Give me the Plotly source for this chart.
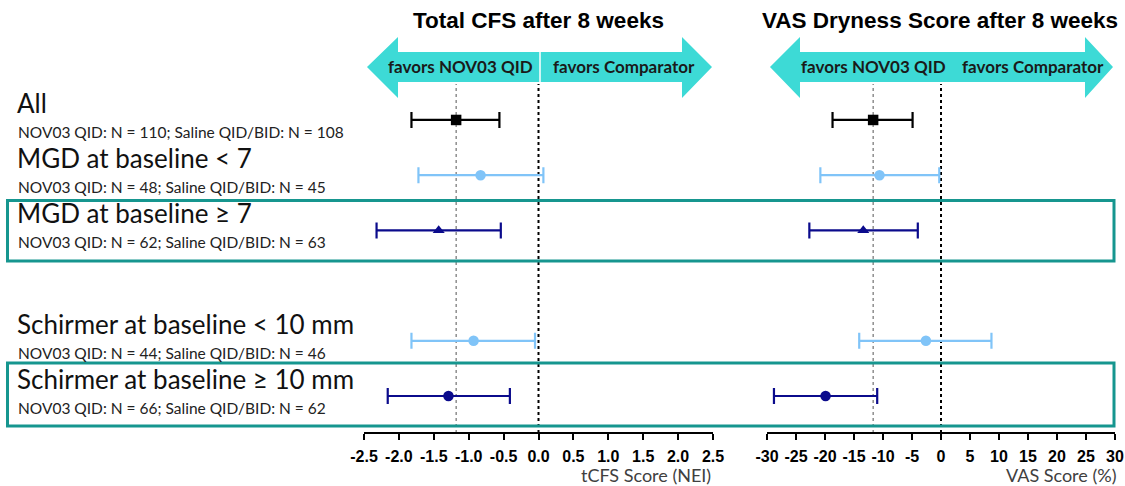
import plotly.graph_objects as go

# ---------------- data ----------------
groups = ["All", "MGD at baseline < 7", "MGD at baseline \u2265 7", "",
          "Schirmer at baseline < 10 mm", "Schirmer at baseline \u2265 10 mm"]
group_ns = ["NOV03 QID: N = 110; Saline QID/BID: N = 108",
            "NOV03 QID: N = 48; Saline QID/BID: N = 45",
            "NOV03 QID: N = 62; Saline QID/BID: N = 63",
            "",
            "NOV03 QID: N = 44; Saline QID/BID: N = 46",
            "NOV03 QID: N = 66; Saline QID/BID: N = 62"]
row_ids = ["r0", "r1", "r2", "gap", "r4", "r5"]

plot_rows = ["r0", "r1", "r2", "r4", "r5"]
cfs_mean = [-1.18, -0.83, -1.43, -0.93, -1.29]
cfs_low = [-1.82, -1.72, -2.32, -1.82, -2.16]
cfs_high = [-0.56, 0.07, -0.54, -0.05, -0.41]

vas_mean = [-11.7, -10.6, -13.4, -2.6, -19.9]
vas_low = [-18.7, -20.8, -22.7, -14.1, -28.8]
vas_high = [-4.9, -0.3, -4.0, 8.7, -11.0]

cfs_ref = -1.18
vas_ref = -11.7

cfs_ticks = [-2.5, -2.0, -1.5, -1.0, -0.5, 0.0, 0.5, 1.0, 1.5, 2.0, 2.5]
cfs_ticktext = ["-2.5", "-2.0", "-1.5", "-1.0", "-0.5", "0.0", "0.5", "1.0", "1.5", "2.0", "2.5"]
vas_ticks = [-30, -25, -20, -15, -10, -5, 0, 5, 10, 15, 20, 25, 30]
vas_ticktext = ["-30", "-25", "-20", "-15", "-10", "-5", "0", "5", "10", "15", "20", "25", "30"]

symbols = ["square", "circle", "triangle-up", "circle", "circle"]
colors = ["#000000", "#80c4f8", "#0b0b8c", "#80c4f8", "#0b0b8c"]

# ---------------- layout helpers ----------------
W, H = 1125, 486
def px(x):
    return x / W
def py(y):
    return 1 - y / H

fig = go.Figure()

for panel, (means, lows, highs, xa) in enumerate([
        (cfs_mean, cfs_low, cfs_high, "x"),
        (vas_mean, vas_low, vas_high, "x2")]):
    for i, r in enumerate(plot_rows):
        fig.add_trace(go.Scatter(
            x=[means[i]], y=[r], xaxis=xa, yaxis="y" if xa == "x" else "y2",
            mode="markers",
            marker=dict(symbol=symbols[i], size=10.5, color=colors[i]),
            error_x=dict(type="data", symmetric=False,
                         array=[highs[i] - means[i]],
                         arrayminus=[means[i] - lows[i]],
                         color=colors[i], thickness=2.2, width=8),
            showlegend=False, hoverinfo="skip"))

ydom = [py(433), py(78)]
yrange = [5.67, -0.76]
axis_common = dict(showgrid=False, zeroline=False, showline=True, linecolor="black",
                   linewidth=2, ticks="outside", ticklen=6, tickwidth=2, tickcolor="black",
                   tickfont=dict(family="Liberation Sans", size=16, color="black", weight="bold"),
                   tickmode="array", ticklabelstandoff=3,
                   anchor="free", position=ydom[0], fixedrange=True, automargin=False)

fig.update_layout(
    template="none",
    width=W, height=H, margin=dict(l=0, r=0, t=0, b=0, pad=0, autoexpand=False),
    plot_bgcolor="white", paper_bgcolor="white",
    xaxis=dict(domain=[px(364), px(713)], range=[-2.5, 2.5], tickvals=cfs_ticks,
               ticktext=cfs_ticktext, **axis_common),
    xaxis2=dict(domain=[px(767), px(1115)], range=[-30, 30], tickvals=vas_ticks,
                ticktext=vas_ticktext, **axis_common),
    yaxis=dict(domain=ydom, type="category", categoryarray=row_ids, range=yrange,
               visible=False, anchor="x", automargin=False),
    yaxis2=dict(domain=ydom, type="category", categoryarray=row_ids, range=yrange,
                visible=False, anchor="x2", overlaying="y", automargin=False),
)

shapes = []
# dotted reference lines
for xa, ref in [("x", cfs_ref), ("x2", vas_ref)]:
    shapes.append(dict(type="line", xref=xa, yref="paper", x0=0, x1=0,
                       y0=py(433), y1=py(84), line=dict(color="black", width=2, dash="dot"),
                       layer="below"))
    shapes.append(dict(type="line", xref=xa, yref="paper", x0=ref, x1=ref,
                       y0=py(433), y1=py(84), line=dict(color="#555555", width=1, dash="dot"),
                       layer="below"))

# arrows
def arrow_path(xl, xr, hl, hr):
    pts = [(xl, 67), (hl, 37), (hl, 52), (hr, 52), (hr, 37), (xr, 67),
           (hr, 98), (hr, 82), (hl, 82), (hl, 98)]
    return "M " + " L ".join(f"{px(a):.5f},{py(b):.5f}" for a, b in pts) + " Z"

arrow_col = "#3ddad6"
shapes.append(dict(type="path", xref="paper", yref="paper", path=arrow_path(367, 712, 398, 682),
                   fillcolor=arrow_col, line=dict(width=0)))
shapes.append(dict(type="path", xref="paper", yref="paper", path=arrow_path(770, 1113, 800, 1085),
                   fillcolor=arrow_col, line=dict(width=0)))
shapes.append(dict(type="line", xref="paper", yref="paper", x0=px(540), x1=px(540),
                   y0=py(52), y1=py(82), line=dict(color="white", width=1.5)))

# teal boxes
box_col = "#16968f"
for top, bot in [(200.5, 261), (363, 426)]:
    shapes.append(dict(type="rect", xref="paper", yref="paper", x0=px(7.5), x1=px(1114),
                       y0=py(bot), y1=py(top), line=dict(color=box_col, width=3),
                       fillcolor="rgba(0,0,0,0)"))

fig.update_layout(shapes=shapes)

ann = []
tfont_title = dict(family="Liberation Sans", size=22.5, color="black", weight="bold")
# titles
ann.append(dict(text="Total CFS after 8 weeks", x=px(538), y=py(21), xref="paper", yref="paper",
                xanchor="center", yanchor="middle", showarrow=False, font=tfont_title))
ann.append(dict(text="VAS Dryness Score after 8 weeks", x=px(940), y=py(21), xref="paper", yref="paper",
                xanchor="center", yanchor="middle", showarrow=False, font=tfont_title))
# arrow texts
afont = dict(family="Lato", size=17, color="#1a1a1a", weight="bold")
for xc, t in [(460, "favors NOV03 QID"), (624, "favors Comparator"),
              (873, "favors NOV03 QID"), (1033, "favors Comparator")]:
    ann.append(dict(text=t, x=px(xc), y=py(67), xref="paper", yref="paper",
                    xanchor="center", yanchor="middle", showarrow=False, font=afont))
# axis titles
tfont = dict(family="Lato", size=18, color="#404040")
ann.append(dict(text="tCFS Score (NEI)", x=px(713), y=py(474.5), xref="paper", yref="paper",
                xanchor="right", yanchor="middle", showarrow=False, font=tfont))
ann.append(dict(text="VAS Score (%)", x=px(1118), y=py(474.5), xref="paper", yref="paper",
                xanchor="right", yanchor="middle", showarrow=False, font=tfont))
# row labels
for g, n, r in zip(groups, group_ns, row_ids):
    if not g:
        continue
    ann.append(dict(text=g, x=px(15), y=r, xref="paper", yref="y", xanchor="left",
                    yanchor="middle", yshift=17, showarrow=False,
                    font=dict(family="Lato", size=26, color="#111111")))
    ann.append(dict(text=n, x=px(16), y=r, xref="paper", yref="y", xanchor="left",
                    yanchor="middle", yshift=-12, showarrow=False,
                    font=dict(family="Lato", size=15.5, color="#222222")))

fig.update_layout(annotations=ann)
fig.write_html("out.html", config={"displayModeBar": False},
               post_script="document.body.style.margin='0px';")
